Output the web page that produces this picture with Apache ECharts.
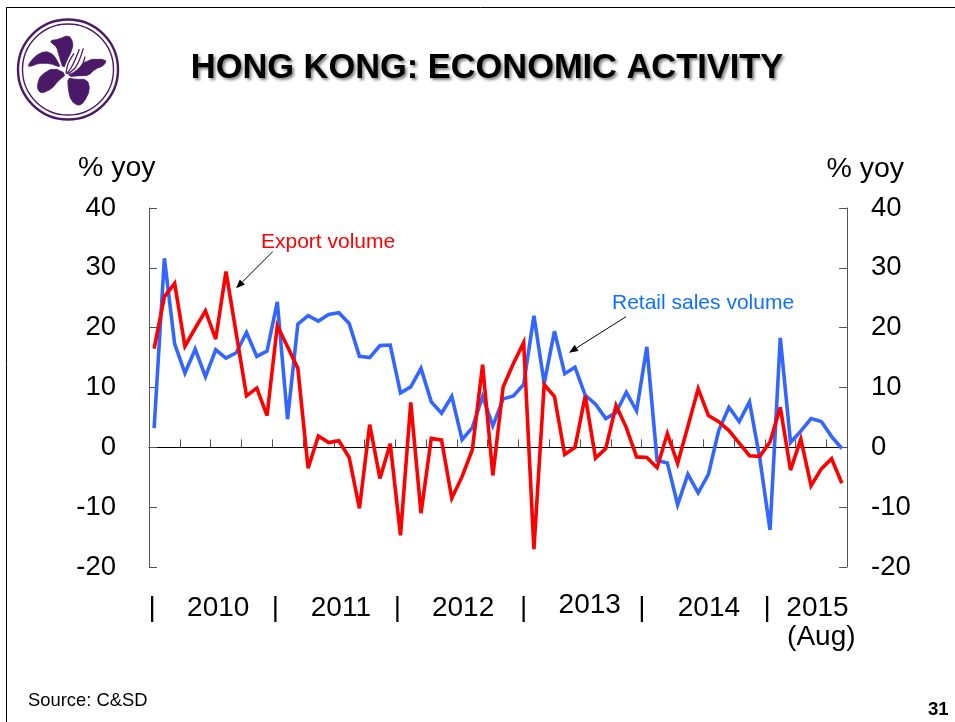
<!DOCTYPE html>
<html>
<head>
<meta charset="utf-8">
<style>html,body{margin:0;padding:0;background:#fff}#c{width:955px;height:722px}</style>
<script src="https://cdn.jsdelivr.net/npm/echarts@6/dist/echarts.min.js"></script>
</head>
<body>
<div id="c"></div>
<script>
const years = [2010, 2011, 2012, 2013, 2014, 2015];
const monthCounts = [12, 12, 12, 12, 12, 8];
const categories = [];
years.forEach((y, i) => { for (let m = 1; m <= monthCounts[i]; m++) categories.push(y + '-' + String(m).padStart(2, '0')); });

const exportVolume = [16.5,25.2,27.4,16.9,19.9,22.8,18.1,29.4,19.0,8.6,9.9,5.3,
  20.3,16.8,13.2,-3.5,1.9,0.8,1.1,-1.7,-10.2,3.8,-5.2,0.6,
  -14.7,7.5,-11.0,1.5,1.2,-8.5,-4.9,-0.4,13.8,-4.7,10.1,14.0,
  17.5,-17.0,10.5,8.5,-1.2,0.0,8.6,-1.8,-0.2,7.0,3.3,-1.6,
  -1.7,-3.4,2.3,-2.7,3.5,9.8,5.3,4.3,2.8,0.7,-1.4,-1.5,
  0.9,6.7,-3.8,1.4,-6.4,-3.6,-1.9,-6.0];
const retailVolume = [3.2,31.6,17.3,12.4,16.4,11.8,16.3,14.9,15.8,19.2,15.2,16.1,
  24.3,4.7,20.6,22.0,21.1,22.2,22.5,20.7,15.2,15.0,17.0,17.1,
  9.1,10.1,13.2,7.6,5.7,8.5,1.3,3.3,8.5,3.6,8.1,8.6,
  10.5,22.0,10.7,19.4,12.3,13.4,8.7,7.2,4.8,5.8,9.2,6.1,
  16.8,-2.2,-2.6,-9.6,-4.5,-7.6,-4.5,2.8,6.7,4.3,7.6,-1.8,
  -13.8,18.3,0.8,2.7,4.8,4.3,1.8,-0.2];

const xTickLabels = {0:'|',6:'2010',12:'|',18:'2011',24:'|',30:'2012',36:'|',42:'2013',48:'|',54:'2014',60:'|',65:'2015 '};
const xTickSecondLine = {65:'(Aug)'};
const titleText = 'HONG KONG: ECONOMIC ACTIVITY';
const yUnit = '% yoy';
const sourceText = 'Source: C&SD';
const pageNumber = '31';
const exportLabel = 'Export volume';
const retailLabel = 'Retail sales volume';

// small per-label nudges, in pixels: [left pad, right pad, top pad]
const labelPad = {0:[0,4,6],6:[5,0,6],12:[0,4,6],18:[4,0,6],24:[0,6,6],30:[2,0,6],36:[0,0,6],42:[9,0,0],48:[0,10,6],54:[1,0,6],60:[0,6,6],65:[0,0,6]};

const PURPLE = '#4a1a68';
const FONT = '"Liberation Sans", Arial, sans-serif';
const AXIS = '#555555';

const richStyles = {sub:{fontFamily:FONT,fontSize:28,color:'#000',lineHeight:33,align:'center'}};
Object.keys(labelPad).forEach(k => {
  const p = labelPad[k];
  richStyles['a'+k] = {fontFamily:FONT,fontSize:28,color:'#000',lineHeight:30,padding:[p[2],p[1],0,p[0]]};
});

function zp(pts){ return pts.map(p => [p[0]/3, p[1]/3]); }
function chaikin(pts){
  const out=[];
  pts.forEach((p,i)=>{ const q=pts[(i+1)%pts.length];
    out.push([p[0]*0.75+q[0]*0.25,p[1]*0.75+q[1]*0.25],[p[0]*0.25+q[0]*0.75,p[1]*0.25+q[1]*0.75]); });
  return out;
}
function petal(pts){ return {type:'polygon', shape:{points:chaikin(zp(pts))}, style:{fill:PURPLE,stroke:PURPLE,lineWidth:0.8}, silent:true}; }
function stamen(pts){ return {type:'polyline', shape:{points:zp(pts), smooth:0.4}, style:{stroke:PURPLE, lineWidth:1.3, fill:null}, silent:true}; }
function arrow(x1,y1,x2,y2){
  const a = Math.atan2(y2-y1,x2-x1), L=9, W=3.6;
  const bx = x2-L*Math.cos(a), by = y2-L*Math.sin(a);
  return [
    {type:'line', shape:{x1,y1,x2:bx,y2:by}, style:{stroke:'#000',lineWidth:1}, silent:true},
    {type:'polygon', shape:{points:[[x2,y2],[bx-W*Math.sin(a),by+W*Math.cos(a)],[bx+W*Math.sin(a),by-W*Math.cos(a)]]}, style:{fill:'#000'}, silent:true}
  ];
}
function label(text,x,y,size,color,weight,align){
  return {type:'text', x, y, silent:true, style:{text, fontFamily:FONT, fontSize:size, fill:color, fontWeight:weight||'normal', align:align||'left', verticalAlign:'middle'}};
}

const chart = echarts.init(document.getElementById('c'), null, {renderer:'canvas'});
chart.setOption({
  animation:false,
  backgroundColor:'#fff',
  title:{text:titleText, left:482, top:47, textAlign:'center',
    textStyle:{fontFamily:FONT,fontSize:34.4,fontWeight:'bold',color:'#000',textShadowColor:'rgba(0,0,0,0.5)',textShadowBlur:3,textShadowOffsetX:2,textShadowOffsetY:2}},
  grid:{left:149,right:108,top:208,bottom:155,containLabel:false,outerBoundsMode:'none'},
  xAxis:{type:'category',data:categories,boundaryGap:true,
    axisLine:{show:true,onZero:true,lineStyle:{color:'#000',width:1}},
    axisTick:{show:true,inside:true,length:8,interval:(i)=>i%3===0,lineStyle:{color:AXIS,width:1}},
    axisLabel:{show:true,margin:23.5,interval:(i)=>xTickLabels[i]!==undefined,
      formatter:(v,i)=>{
        if(xTickLabels[i]===undefined) return '';
        const s='{a'+i+'|'+xTickLabels[i]+'}';
        return xTickSecondLine[i]? s+'\n{sub|'+xTickSecondLine[i]+'}' : s;
      },
      rich:richStyles,fontFamily:FONT,fontSize:28,color:'#000',hideOverlap:false,verticalAlign:'top'},
    splitLine:{show:false}},
  yAxis:[
    {type:'value',position:'left',min:-20,max:40,interval:10,
     axisLine:{show:true,onZero:false,lineStyle:{color:AXIS,width:1}},
     axisTick:{show:true,inside:true,length:8,lineStyle:{color:AXIS,width:1}},
     axisLabel:{margin:33,fontFamily:FONT,fontSize:27.5,color:'#000'},splitLine:{show:false}},
    {type:'value',position:'right',min:-20,max:40,interval:10,
     axisLine:{show:true,onZero:false,lineStyle:{color:AXIS,width:1}},
     axisTick:{show:true,inside:true,length:8,lineStyle:{color:AXIS,width:1}},
     axisLabel:{margin:24,fontFamily:FONT,fontSize:27.5,color:'#000'},splitLine:{show:false}}
  ],
  series:[
    {name:'Retail sales volume',type:'line',data:retailVolume,yAxisIndex:0,showSymbol:false,symbol:'none',clip:false,
     lineStyle:{color:'#3366ff',width:3.6,join:'miter',miterLimit:4},z:2},
    {name:'Export volume',type:'line',data:exportVolume,yAxisIndex:0,showSymbol:false,symbol:'none',clip:false,
     lineStyle:{color:'#ff0000',width:3.6,join:'miter',miterLimit:4},z:3}
  ],
  graphic:[
    {type:'line',shape:{x1:6.5,y1:7,x2:6.5,y2:722},style:{stroke:'#000',lineWidth:1},silent:true},
    {type:'line',shape:{x1:6,y1:7.5,x2:955,y2:7.5},style:{stroke:'#000',lineWidth:1},silent:true},
    {type:'circle',shape:{cx:68,cy:69.5,r:50},style:{fill:'#fff',stroke:PURPLE,lineWidth:2.4},silent:true},
    {type:'circle',shape:{cx:68,cy:69.5,r:45.5},style:{fill:'#fff',stroke:PURPLE,lineWidth:1.4},silent:true},
    petal([[150,122],[175,118],[207,105],[220,130],[214,155],[202,178],[190,208],[178,170],[170,140],[158,132]]),
    petal([[82,198],[105,168],[135,153],[160,163],[176,190],[180,202],[150,190],[115,190],[95,199]]),
    petal([[113,250],[122,226],[160,203],[200,222],[175,242],[155,267],[125,280],[113,270]]),
    petal([[203,233],[225,238],[262,238],[270,270],[252,307],[235,318],[213,302],[205,270]]),
    petal([[225,216],[262,178],[320,178],[312,197],[285,207],[265,227],[240,227],[203,230]]),
    stamen([[198,220],[205,190],[222,160]]),
    stamen([[200,222],[218,195],[238,148]]),
    stamen([[203,222],[228,200],[250,145]]),
    stamen([[205,225],[240,205],[255,170]]),
    label(yUnit,78,168,28.5,'#000'),
    label(yUnit,904,169,28.5,'#000','normal','right'),
    label(exportLabel,261,242,21,'#ff0000'),
    label(retailLabel,612,303,21,'#0f6fff'),
    label(sourceText,28,701,18.4,'#000'),
    label(pageNumber,928,710,18.5,'#000','bold'),
    ...arrow(272.7,251.7,236,288.3),
    ...arrow(626,316.7,569,352.7)
  ]
});
</script>
</body>
</html>
